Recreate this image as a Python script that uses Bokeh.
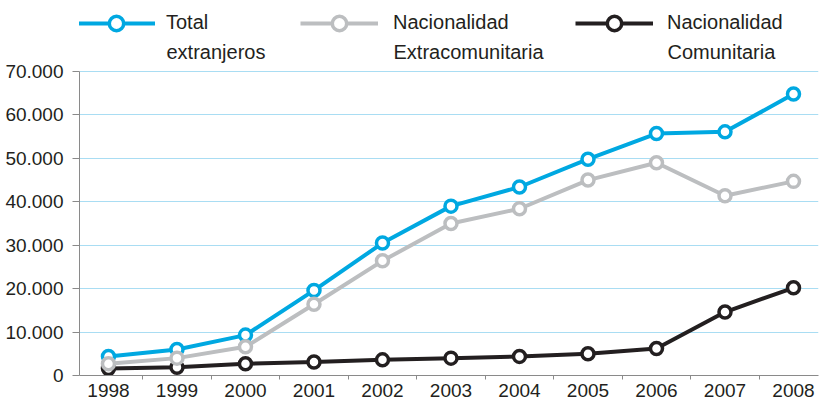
from bokeh.plotting import figure
from bokeh.models import Range1d, FixedTicker, Legend, LegendItem, Label
from bokeh.embed import file_html
from bokeh.resources import INLINE

years = [1998, 1999, 2000, 2001, 2002, 2003, 2004, 2005, 2006, 2007, 2008]
total = [4400, 6000, 9300, 19600, 30500, 39000, 43400, 49800, 55700, 56100, 64800]
extracomunitaria = [2700, 4000, 6600, 16400, 26400, 35000, 38400, 45000, 49000, 41400, 44700]
comunitaria = [1600, 1900, 2700, 3100, 3600, 4000, 4400, 5000, 6200, 14600, 20200]
y_ticks = [0, 10000, 20000, 30000, 40000, 50000, 60000, 70000]
y_tick_labels = ["0", "10.000", "20.000", "30.000", "40.000", "50.000", "60.000", "70.000"]
x_tick_labels = [str(y) for y in years]
series_names = ["Total\nextranjeros", "Nacionalidad\nExtracomunitaria", "Nacionalidad\nComunitaria"]

FONT = "Liberation Sans"
TXT = "#231F20"
BLUE = "#00A8E1"
GREY = "#BCBEC0"
BLACK = "#231F20"

W, H = 820, 403
BORDER_LEFT = 79
BORDER_BOTTOM = 28
FRAME_H = H - BORDER_BOTTOM
AXIS_H = 304  # pixel height of the 0..70.000 axis in the reference
y_max = y_ticks[-1]
y_top = y_max * FRAME_H / AXIS_H  # room above the axis for the legend

p = figure(width=W, height=H, output_backend="svg", toolbar_location=None,
           x_range=Range1d(1997.577, 2008.365), y_range=Range1d(0, y_top),
           min_border_left=BORDER_LEFT, min_border_right=2, min_border_top=0,
           min_border_bottom=BORDER_BOTTOM)
p.outline_line_color = None
p.background_fill_color = "white"
p.border_fill_color = "white"

p.xgrid.grid_line_color = None
p.ygrid.grid_line_color = "#A9DDF3"
p.ygrid.grid_line_width = 1

p.yaxis.ticker = FixedTicker(ticks=y_ticks)
p.yaxis.bounds = (0, y_max)
p.yaxis.major_label_overrides = dict(zip(y_ticks, y_tick_labels))
p.yaxis.minor_tick_line_color = None
p.yaxis.major_tick_out = 7
p.yaxis.major_tick_in = 0
p.yaxis.major_label_standoff = 9
p.yaxis.axis_line_color = "#8A8A8A"
p.yaxis.major_tick_line_color = "#8A8A8A"

p.xaxis.ticker = FixedTicker(ticks=years, minor_ticks=[y + 0.5 for y in years[:-1]])
p.xaxis.major_label_overrides = dict(zip(years, x_tick_labels))
p.xaxis.major_tick_out = 0
p.xaxis.major_tick_in = 0
p.xaxis.minor_tick_out = 4
p.xaxis.minor_tick_in = 0
p.xaxis.minor_tick_line_color = "#8A8A8A"
p.xaxis.axis_line_color = "#8A8A8A"
p.xaxis.major_label_standoff = 4

for ax in (p.xaxis, p.yaxis):
    ax.major_label_text_font = FONT
    ax.major_label_text_font_size = "19px"
    ax.major_label_text_color = TXT

renderers = {}
for key, vals, color in [("com", comunitaria, BLACK),
                         ("tot", total, BLUE),
                         ("ext", extracomunitaria, GREY)]:
    l = p.line(years, vals, line_color=color, line_width=4)
    s = p.scatter(years, vals, size=12, fill_color="white", line_color=color, line_width=3.5)
    renderers[key] = [l, s]

# legend: glyph start x (page px) for each entry; first line beside the glyph, second line below
legend_entries = [("tot", series_names[0], 77, 11),
                  ("ext", series_names[1], 300, 15),
                  ("com", series_names[2], 575, 14)]
GLYPH_W = 78
GLYPH_H = 36
CENTER_Y = 22.5
for key, name, gx, standoff in legend_entries:
    first, second = name.split("\n")
    lg = Legend(items=[LegendItem(label=first, renderers=renderers[key])],
                orientation="horizontal",
                location=(gx - BORDER_LEFT, FRAME_H - CENTER_Y - GLYPH_H / 2),
                glyph_width=GLYPH_W, glyph_height=GLYPH_H, label_standoff=standoff,
                padding=0, margin=0, border_line_color=None, background_fill_alpha=0,
                label_text_font=FONT, label_text_font_size="20px", label_text_color=TXT,
                label_height=24)
    p.add_layout(lg, "center")
    p.add_layout(Label(x=gx - BORDER_LEFT + GLYPH_W + standoff, y=FRAME_H - 51.5,
                       x_units="screen", y_units="screen", text=second,
                       text_font=FONT, text_font_size="20px", text_color=TXT,
                       text_baseline="alphabetic", text_align="left"))

open("out.html", "w").write(file_html(p, INLINE))
